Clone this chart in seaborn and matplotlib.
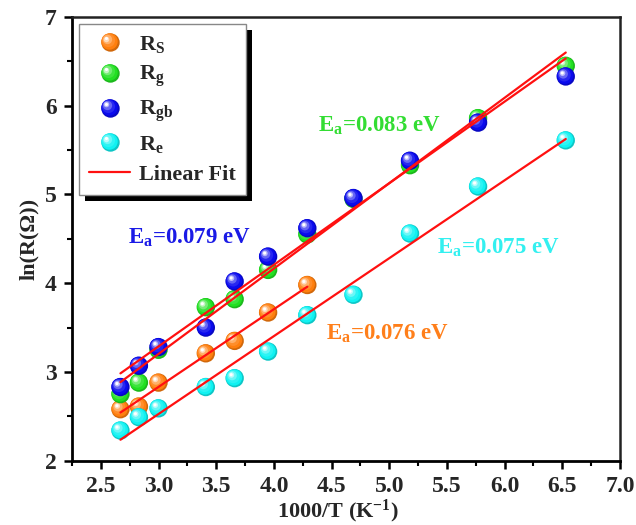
import numpy as np
import pandas as pd
import matplotlib
matplotlib.use("Agg")
import matplotlib.pyplot as plt
import matplotlib.transforms as mtransforms
from matplotlib.lines import Line2D
from matplotlib.patches import Rectangle
from matplotlib.colors import to_rgb
from matplotlib.legend_handler import HandlerBase
import seaborn as sns

# ---------------- data ----------------
inv_T = [2.67, 2.83, 3.00, 3.41, 3.66, 3.95, 4.29, 4.69, 5.18, 5.77, 6.53]
R_s = [2.58, 2.61, 2.88, 3.21, 3.35, 3.67, 3.98]
R_g = [2.75, 2.88, 3.25, 3.73, 3.82, 4.15, 4.55, 4.95, 5.33, 5.86, 6.45]
R_gb = [2.83, 3.07, 3.28, 3.50, 4.02, 4.30, 4.62, 4.96, 5.38, 5.81, 6.33]
R_e = [2.34, 2.49, 2.59, 2.83, 2.93, 3.23, 3.64, 3.87, 4.56, 5.09, 5.61]

series_names = ["R$_\\mathregular{S}$", "R$_\\mathregular{g}$", "R$_\\mathregular{gb}$", "R$_\\mathregular{e}$"]
series_vals = [R_s, R_g, R_gb, R_e]
series_colors = ["#ff7f0e", "#22e022", "#0a0aee", "#10f2f2"]

ea_labels = ["E$_\\mathregular{a}$=0.076 eV", "E$_\\mathregular{a}$=0.083 eV",
             "E$_\\mathregular{a}$=0.079 eV", "E$_\\mathregular{a}$=0.075 eV"]
ea_text_colors = ["#ff7f1a", "#33dd33", "#1a1ae6", "#33f0f0"]
ea_pos = [(4.45, 3.36), (4.38, 5.71), (2.735, 4.45), (5.41, 4.33)]

# ---------------- style ----------------
sns.set_theme(style="ticks")
plt.rcParams["font.family"] = ["Liberation Serif", "DejaVu Serif"]
plt.rcParams["font.weight"] = "bold"
plt.rcParams["mathtext.fontset"] = "custom"
plt.rcParams["mathtext.rm"] = "Liberation Serif:bold"
plt.rcParams["mathtext.it"] = "Liberation Serif:bold"
plt.rcParams["mathtext.bf"] = "Liberation Serif:bold"

fig = plt.figure(figsize=(6.36, 5.25), dpi=100)
ax = fig.add_axes([0.1132, 0.1225, 0.8616, 0.8451])


def blend(c, w):
    c = np.array(to_rgb(c))
    return tuple(c * (1 - w) + np.ones(3) * w)


def shade(c, f):
    c = np.array(to_rgb(c))
    return tuple(c * f)


LAYERS = [(140, 0.0, -0.5), (90, 0.12, -1.1), (45, 0.38, -1.8), (16, 0.72, -2.3), (5, 1.0, -2.5)]


def spheres(x, y, color, z):
    df = pd.DataFrame({"x": x, "y": y})
    sns.scatterplot(data=df, x="x", y="y", ax=ax, s=175, color=shade(color, 0.82),
                    edgecolor="none", linewidth=0, zorder=z, legend=False)
    for s, w, off in LAYERS:
        tr = mtransforms.offset_copy(ax.transData, fig=fig, x=off, y=-off, units="points")
        ax.scatter(x, y, s=s, color=blend(color, w), edgecolor="none",
                   transform=tr, zorder=z + 0.01)


class SphereHandler(HandlerBase):
    def create_artists(self, legend, orig_handle, xdescent, ydescent, width, height,
                       fontsize, trans):
        col = orig_handle.get_markerfacecolor()
        cx = width / 2 - xdescent
        cy = height / 2 - ydescent
        arts = [Line2D([cx], [cy], ls="none", marker="o", ms=np.sqrt(175),
                       mfc=shade(col, 0.82), mec="none", transform=trans)]
        for s, w, off in LAYERS:
            arts.append(Line2D([cx + off], [cy - off], ls="none", marker="o", ms=np.sqrt(s),
                               mfc=blend(col, w), mec="none", transform=trans))
        return arts


order_z = [3, 4, 5, 6]
for name, vals, col, z in zip(series_names, series_vals, series_colors, order_z):
    spheres(inv_T[:len(vals)], vals, col, z)

for vals in series_vals:
    sns.regplot(x=np.array(inv_T[:len(vals)]), y=np.array(vals), ax=ax, scatter=False,
                ci=None, truncate=True, line_kws=dict(color="#ff1010", lw=1.6, zorder=8))

for lab, col, (tx, ty) in zip(ea_labels, ea_text_colors, ea_pos):
    ax.text(tx, ty, lab, color=col, fontsize=16.5, fontweight="bold", zorder=9)

ax.set_xlim(2.25, 7.0)
ax.set_ylim(2, 7)
ax.set_xticks(np.arange(2.5, 7.01, 0.5))
ax.set_xticklabels([f"{v:.1f}" for v in np.arange(2.5, 7.01, 0.5)])
ax.set_yticks([2, 3, 4, 5, 6, 7])
ax.set_xticks(np.arange(2.25, 7.01, 0.25), minor=True)
ax.set_yticks(np.arange(2, 7.01, 0.5), minor=True)
ax.tick_params(axis="both", which="major", direction="out", length=6, width=1.8,
               labelsize=17, color="black", pad=5)
ax.tick_params(axis="both", which="minor", direction="out", length=3.5, width=1.5, color="black")
for lbl in ax.get_xticklabels() + ax.get_yticklabels():
    lbl.set_fontweight("bold")

ax.set_xlabel("1000/T (K$^\\mathregular{-1}$)", fontsize=16, fontweight="bold")
ax.xaxis.set_label_coords((337.5 - 72) / 548, -0.083)
ax.set_ylabel("ln(R(Ω))", fontsize=16, fontweight="bold", labelpad=4)

for sp in ["left", "bottom"]:
    ax.spines[sp].set_linewidth(2.0)
    ax.spines[sp].set_color("black")
for sp in ["top", "right"]:
    ax.spines[sp].set_visible(True)
    ax.spines[sp].set_linewidth(1.8)
    ax.spines[sp].set_color("#222222")

# legend
sphere_handles = [Line2D([], [], ls="none", marker="o", mfc=col) for col in series_colors]
handles = sphere_handles + [Line2D([], [], color="#ff1010", lw=1.6)]
labels = series_names + ["Linear Fit"]
hmap = {h: SphereHandler() for h in sphere_handles}
leg = ax.legend(handles, labels, loc="upper left", bbox_to_anchor=(0.013, 0.985),
                handler_map=hmap,
                frameon=True, fancybox=False, framealpha=1, edgecolor="#888888",
                prop=dict(family="Liberation Serif", weight="bold", size=16),
                handlelength=1.85, handletextpad=0.4, labelspacing=0.42, borderpad=0.45,
                borderaxespad=0)
leg.get_frame().set_linewidth(1.0)
leg.set_zorder(20)

fig.canvas.draw()
bb = leg.get_window_extent().transformed(fig.transFigure.inverted())
dx, dy = 6 / 636, 6 / 525
shadow = Rectangle((bb.x0 + dx, bb.y0 - dy), bb.width, bb.height, transform=fig.transFigure,
                   facecolor="black", edgecolor="none", zorder=19)
ax.add_artist(shadow)
shadow.set_clip_on(False)

fig.savefig("out.png", dpi=100)
